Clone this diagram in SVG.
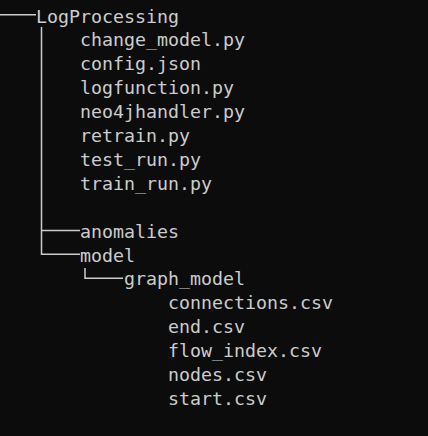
<svg xmlns="http://www.w3.org/2000/svg" width="428" height="436" viewBox="0 0 428 436">
<style>
text{font-family:"DejaVu Sans Mono","Liberation Mono",monospace;font-size:18.3px;fill:#cccccc}
.c{stroke:#cccccc;stroke-width:1.5;fill:none}
</style>
<rect width="428" height="436" fill="#0c0c0c"/>
<g id="connectors">
<path class="c" d="M0 14.8H36"/>
<path class="c" d="M41.5 27V254.3H80"/>
<path class="c" d="M41.5 230.6H80"/>
<path class="c" d="M85 268V278.2H123"/>
</g>
<g id="LogProcessing"><text x="36" y="22.5">LogProcessing</text></g>
<g id="change_model"><text x="80" y="46.4">change_model.py</text></g>
<g id="config"><text x="80" y="70.3">config.json</text></g>
<g id="logfunction"><text x="80" y="94.2">logfunction.py</text></g>
<g id="neo4jhandler"><text x="80" y="118.1">neo4jhandler.py</text></g>
<g id="retrain"><text x="80" y="142">retrain.py</text></g>
<g id="test_run"><text x="80" y="165.9">test_run.py</text></g>
<g id="train_run"><text x="80" y="189.8">train_run.py</text></g>
<g id="anomalies"><text x="80" y="237.6">anomalies</text></g>
<g id="model"><text x="80" y="261.5">model</text></g>
<g id="graph_model"><text x="124" y="285.4">graph_model</text></g>
<g id="connections"><text x="168" y="309.3">connections.csv</text></g>
<g id="end"><text x="168" y="333.2">end.csv</text></g>
<g id="flow_index"><text x="168" y="357.1">flow_index.csv</text></g>
<g id="nodes"><text x="168" y="381">nodes.csv</text></g>
<g id="start"><text x="168" y="404.9">start.csv</text></g>
</svg>
